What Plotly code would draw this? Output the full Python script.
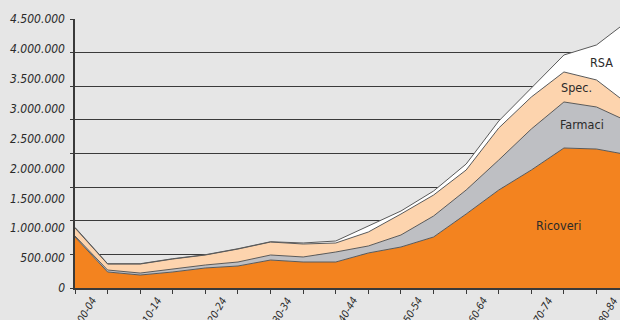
import plotly.graph_objects as go

age_groups = ["00-04", "05-09", "10-14", "15-19", "20-24", "25-29", "30-34", "35-39",
              "40-44", "45-49", "50-54", "55-59", "60-64", "65-69", "70-74", "75-79",
              "80-84", "85+"]
ricoveri = [853000, 268000, 217000, 268000, 335000, 368000, 468000, 435000, 435000,
            586000, 686000, 853000, 1238000, 1639000, 1974000, 2342000, 2325000, 2225000]
farmaci = [17000, 33000, 33000, 50000, 50000, 67000, 84000, 84000, 167000,
           117000, 201000, 351000, 401000, 502000, 686000, 770000, 703000, 552000]
spec = [134000, 100000, 151000, 167000, 167000, 217000, 217000, 217000, 151000,
        234000, 351000, 351000, 335000, 535000, 535000, 502000, 452000, 284000]
rsa = [10000, 5000, 5000, 5000, 5000, 5000, 5000, 17000, 33000,
       100000, 50000, 67000, 100000, 117000, 151000, 284000, 586000, 1422000]

y_tick_values = [0, 500000, 1000000, 1500000, 2000000, 2500000, 3000000, 3500000, 4000000, 4500000]
y_tick_labels = ["0", "500.000", "1.000.000", "1.500.000", "2.000.000", "2.500.000",
                 "3.000.000", "3.500.000", "4.000.000", "4.500.000"]
grid_values = [562500 * k for k in range(0, 9)]

series = [("Ricoveri", ricoveri, "#F3831F"),
          ("Farmaci", farmaci, "#BEBFC3"),
          ("Spec.", spec, "#FDD4AE"),
          ("RSA", rsa, "#FFFFFF")]

FONT = "DejaVu Sans Condensed, DejaVu Sans, sans-serif"

fig = go.Figure()
# invisible trace so the primary (grid) axis gets drawn
fig.add_trace(go.Scatter(x=[age_groups[0]], y=[None], mode="lines", yaxis="y",
                         showlegend=False, hoverinfo="skip"))
for name, vals, col in series:
    fig.add_trace(go.Scatter(
        x=age_groups, y=vals, name=name, mode="lines", stackgroup="one",
        line=dict(color="#5a5a5a", width=1), fillcolor=col, yaxis="y2",
        hoverinfo="skip"))

label_pos = {"Ricoveri": (14.82, 1040000), "Farmaci": (15.55, 2740000),
             "Spec.": (15.37, 3360000), "RSA": (16.15, 3780000)}
for name, (lx, ly) in label_pos.items():
    fig.add_annotation(x=lx, y=ly, xref="x", yref="y2", text=name, showarrow=False,
                       font=dict(family=FONT, size=12.5, color="#2a2a2a"))

# category labels: every other age group, rotated, placed just right of its tick
for i, lab in enumerate(age_groups):
    if i % 2 == 0:
        fig.add_annotation(x=lab, y=0, xref="x", yref="paper", text=lab,
                           showarrow=False, textangle=-60,
                           xanchor="left", yanchor="top", xshift=-2, yshift=-6,
                           borderpad=0,
                           font=dict(family=FONT, size=10.5, color="#2a2a2a",
                                     style="italic"))

fig.update_layout(
    width=620, height=320,
    margin=dict(l=75, r=0, t=19, b=32),
    paper_bgcolor="#E6E6E6", plot_bgcolor="#E6E6E6",
    showlegend=False,
    xaxis=dict(type="category", range=[0, 16.72], showgrid=False, automargin=False,
               showline=True, linecolor="#3a3a3a", linewidth=1.5,
               ticks="outside", ticklen=4, tickcolor="#3a3a3a", tickwidth=1,
               showticklabels=False),
    yaxis=dict(range=[0, 4500000], tickvals=grid_values, showticklabels=False,
               showgrid=True, gridcolor="#3a3a3a", gridwidth=1.3, zeroline=False,
               automargin=False,
               showline=True, linecolor="#3a3a3a", linewidth=1.5,
               ticks="outside", ticklen=3, tickcolor="#3a3a3a"),
    yaxis2=dict(range=[0, 4500000], overlaying="y", side="left", automargin=False,
                tickvals=y_tick_values, ticktext=y_tick_labels,
                showgrid=False, zeroline=False, showline=False, ticks="",
                ticklabelstandoff=9,
                tickfont=dict(family=FONT, size=12, color="#2a2a2a", style="italic")),
)

fig.write_html("out.html")
